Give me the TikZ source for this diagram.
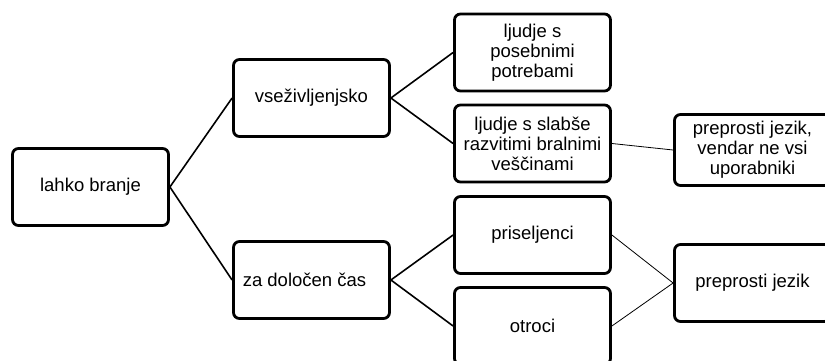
\documentclass[tikz,border=0pt]{standalone}
\usepackage{fontspec}
\setmainfont{Liberation Sans}
\usepackage{tikz}
\usetikzlibrary{positioning}
\tikzstyle{topic} = [rectangle, rounded corners=6pt, minimum width=156pt, minimum height=77pt, line width=2.8pt, draw=black, fill=white, align=center, inner sep=2pt, font=\fontsize{18.5}{20}\selectfont]
\tikzstyle{branch} = [line width=1.6pt]
\tikzstyle{thinbranch} = [line width=0.8pt]

\begin{document}
\begin{tikzpicture}[x=1pt, y=-1pt]
            \clip (0,0) rectangle (825,361);
            \fill[white] (0,0) rectangle (825,361);

            % Root
            \node[topic] (lahko) at (90.5, 187) {lahko branje};

            % Second level
            \node[topic] (vsezivljenjsko) at (311.5, 98) {vseživljenjsko};
            \node[topic] (dolocen) at (311.5, 280) {\hspace*{-14pt}za določen čas};

            % Groups of readers
            \node[topic] (posebni) at (532.5, 52.5) {ljudje s\\posebnimi\\potrebami};
            \node[topic] (slabse) at (532.5, 143.5) {ljudje s slabše\\razvitimi bralnimi\\veščinami};
            \node[topic] (priseljenci) at (532.5, 235) {priseljenci};
            \node[topic] (otroci) at (532.5, 326) {otroci};

            % Language
            \node[topic, minimum height=71pt] (nevsi) at (752.5, 150) {preprosti jezik,\\vendar ne vsi\\uporabniki};
            \node[topic] (preprosti) at (752.5, 283) {preprosti jezik};

            % Lines
            \draw[branch] (lahko.east) -- (vsezivljenjsko.west);
            \draw[branch] (lahko.east) -- (dolocen.west);
            \draw[branch] (vsezivljenjsko.east) -- (posebni.west);
            \draw[branch] (vsezivljenjsko.east) -- (slabse.west);
            \draw[branch] (dolocen.east) -- (priseljenci.west);
            \draw[branch] (dolocen.east) -- (otroci.west);
            \draw[thinbranch] (slabse.east) -- (nevsi.west);
            \draw[thinbranch] (priseljenci.east) -- (preprosti.west);
            \draw[thinbranch] (otroci.east) -- (preprosti.west);
        \end{tikzpicture}
\end{document}
